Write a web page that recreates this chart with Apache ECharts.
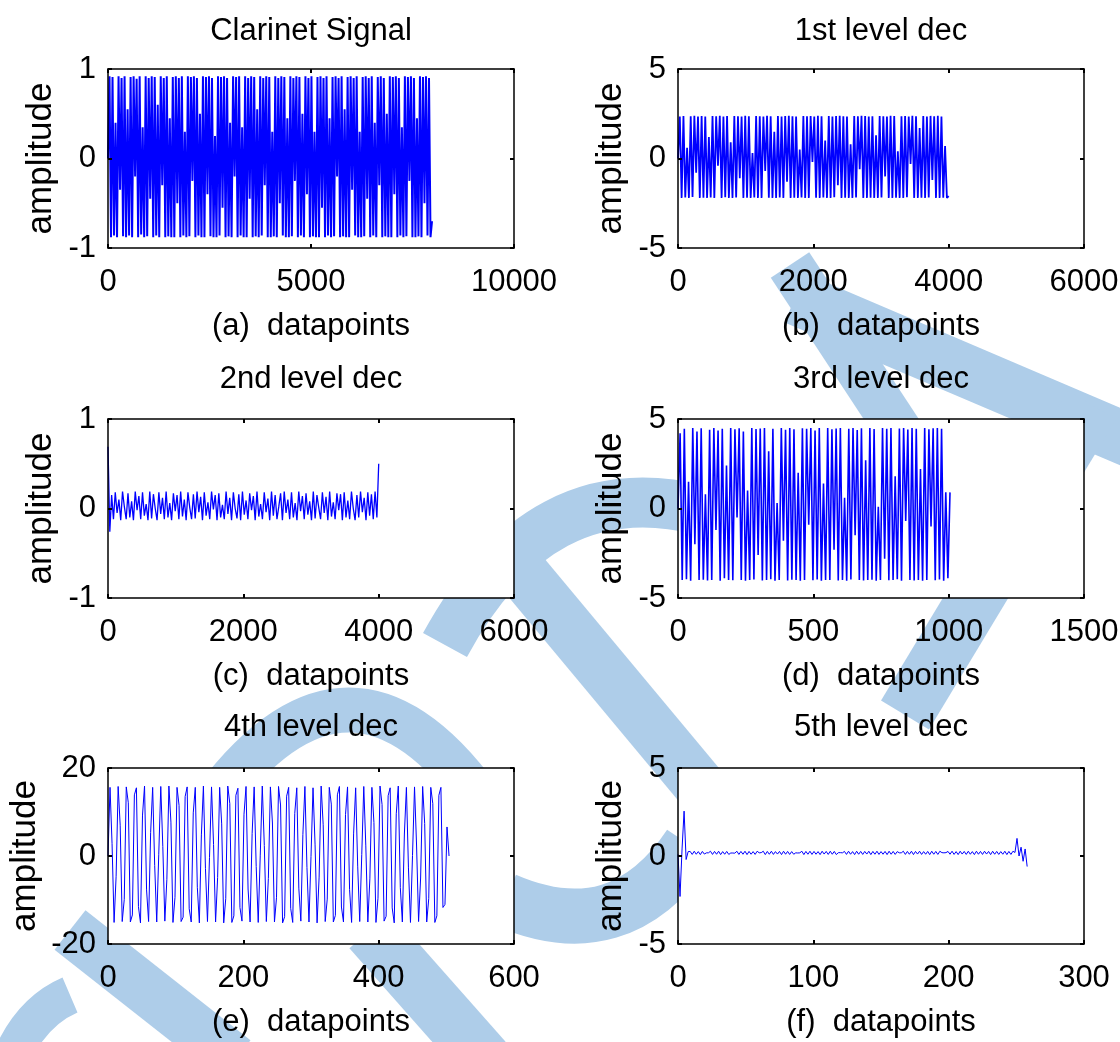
<!DOCTYPE html>
<html><head><meta charset="utf-8">
<script src="https://cdn.jsdelivr.net/npm/echarts@6/dist/echarts.min.js"></script>
<style>html,body{margin:0;padding:0;background:#fff}#c{width:1120px;height:1042px}</style>
</head><body><div id="c"></div>
<script>
// ---------- data ----------
const panelTitles = ['Clarinet Signal','1st level dec','2nd level dec','3rd level dec','4th level dec','5th level dec'];
const xAxisNames = ['(a)  datapoints','(b)  datapoints','(c)  datapoints','(d)  datapoints','(e)  datapoints','(f)  datapoints'];
const yAxisName = 'amplitude';
const xAxisMax = [10000, 6000, 6000, 1500, 600, 300];
const xAxisStep = [5000, 2000, 2000, 500, 200, 100];
const yAxisMin = [-1, -5, -1, -5, -20, -5];
const yAxisMax = [1, 5, 1, 5, 20, 5];
const yAxisStep = [1, 5, 1, 5, 20, 5];
// spacing (in datapoints) between the plotted samples of each signal
const sampleStep = [37.12, 26.85, 26.85, 7.79, 3, 1.5];

const sigA = [
0.00,0.92,-0.88,0.91,-0.86,0.40,-0.88,0.92,-0.35,0.90,-0.87,0.92,
-0.88,0.55,-0.86,0.91,-0.88,0.92,-0.20,0.89,-0.88,0.92,-0.85,0.35,
-0.88,0.92,-0.87,0.90,-0.45,0.92,-0.88,0.91,-0.86,0.60,-0.88,0.92,
-0.30,0.90,-0.88,0.92,-0.87,0.45,-0.88,0.91,-0.88,0.92,-0.50,0.90,
-0.88,0.92,-0.86,0.30,-0.88,0.92,-0.87,0.91,-0.25,0.92,-0.88,0.90,
-0.86,0.50,-0.88,0.92,-0.88,0.91,-0.40,0.92,-0.87,0.90,-0.88,0.25,
-0.88,0.92,-0.86,0.91,-0.55,0.92,-0.88,0.90,-0.87,0.40,-0.88,0.92,
-0.20,0.91,-0.88,0.92,-0.86,0.35,-0.88,0.92,-0.88,0.90,-0.45,0.92,
-0.88,0.91,-0.87,0.55,-0.88,0.92,-0.86,0.90,-0.30,0.92,-0.88,0.91,
-0.88,0.30,-0.87,0.92,-0.88,0.90,-0.50,0.92,-0.86,0.91,-0.88,0.45,
-0.88,0.92,-0.87,0.90,-0.25,0.92,-0.88,0.91,-0.86,0.50,-0.88,0.92,
-0.40,0.90,-0.88,0.92,-0.87,0.30,-0.88,0.91,-0.88,0.92,-0.55,0.90,
-0.88,0.92,-0.86,0.45,-0.88,0.91,-0.87,0.92,-0.20,0.90,-0.88,0.92,
-0.87,0.55,-0.88,0.91,-0.88,0.92,-0.35,0.90,-0.86,0.92,-0.88,0.30,
-0.88,0.91,-0.87,0.92,-0.45,0.90,-0.88,0.92,-0.86,0.40,-0.88,0.91,
-0.30,0.92,-0.88,0.90,-0.87,0.50,-0.88,0.92,-0.88,0.91,-0.40,0.92,
-0.88,0.90,-0.86,0.35,-0.88,0.92,-0.87,0.91,-0.25,0.92,-0.88,0.90,
-0.88,0.45,-0.87,0.92,-0.88,0.91,-0.50,0.92,-0.86,0.90,-0.88,-0.70];

const sigB = [
0.00,2.35,-2.20,2.38,-2.18,0.60,-2.20,2.36,-2.15,2.39,
-0.80,2.35,-2.20,2.37,-2.19,2.35,-2.20,1.20,-2.18,2.38,
-2.20,2.36,-0.40,2.39,-2.20,2.35,-2.17,2.37,-2.20,0.90,
-2.20,2.38,-2.18,2.36,-1.10,2.35,-2.20,2.39,-2.19,2.36,
-2.20,0.30,-2.18,2.38,-2.20,2.36,-2.20,2.35,-0.70,2.39,
-2.19,2.36,-2.20,1.50,-2.20,2.38,-2.18,2.35,-2.20,2.37,
-1.30,2.39,-2.20,2.36,-2.19,2.35,-2.20,0.50,-2.18,2.38,
-2.20,2.36,-2.20,2.37,-0.20,2.35,-2.19,2.39,-2.20,2.36,
-2.18,1.00,-2.20,2.38,-2.20,2.35,-2.17,2.37,-1.50,2.39,
-2.20,2.36,-2.19,2.35,-2.20,0.80,-2.20,2.38,-2.18,2.36,
-0.60,2.39,-2.20,2.37,-2.20,2.35,-2.19,2.36,-2.20,1.30,
-2.20,2.38,-2.18,2.36,-1.00,2.35,-2.20,2.39,-2.20,2.37,
-2.19,0.40,-2.20,2.36,-2.20,2.38,-2.17,2.35,-0.30,2.39,
-2.20,2.36,-2.20,1.70,-2.19,2.37,-2.20,2.35,-2.18,2.38,
-1.20,2.36,-2.20,2.39,-2.20,2.35,-2.19,0.70,-2.20,-2.10];

const sigC = [
0.69,-0.26,0.15,-0.12,0.18,-0.05,0.10,-0.13,0.19,0.02,
-0.12,0.17,-0.10,0.08,-0.13,0.19,-0.02,0.14,-0.12,0.18,
-0.08,0.05,-0.13,0.19,-0.11,0.16,0.00,-0.13,0.18,-0.06,
0.12,-0.12,0.19,-0.10,0.06,-0.13,0.17,-0.03,0.15,-0.12,
0.19,-0.09,0.10,-0.13,0.18,0.01,-0.12,0.16,-0.11,0.19,
-0.04,0.13,-0.13,0.18,-0.08,0.07,-0.12,0.19,-0.01,0.15,
-0.13,0.17,-0.10,0.04,-0.12,0.19,-0.06,0.12,-0.13,0.18,
0.00,-0.11,0.16,-0.13,0.19,-0.07,0.09,-0.12,0.17,-0.02,
0.14,-0.13,0.19,-0.09,0.05,-0.12,0.18,-0.04,0.11,-0.13,
0.19,-0.08,0.15,-0.12,0.02,0.17,-0.13,0.19,-0.05,0.10,
-0.12,0.18,-0.10,0.06,-0.13,0.19,-0.03,0.14,-0.12,0.17,
-0.07,0.08,-0.13,0.19,-0.11,0.15,0.01,-0.12,0.18,-0.05,
0.13,-0.13,0.19,-0.09,0.07,-0.12,0.17,-0.02,0.16,-0.13,
0.18,-0.10,0.09,-0.12,0.19,0.00,-0.13,0.15,-0.10,0.19,
-0.04,0.12,-0.13,0.18,-0.08,0.16,-0.12,0.19,-0.10,0.50];

const sigD = [
0.00,4.20,-4.00,4.45,-3.95,1.50,-4.03,4.50,-2.00,4.30,
-4.00,4.48,-3.98,0.80,-4.02,4.40,-4.00,4.50,-1.20,4.35,
-4.03,4.46,-3.90,2.40,-4.00,4.50,-4.01,4.42,-0.50,4.48,
-3.99,4.30,-4.03,1.00,-4.00,4.50,-3.97,4.44,-2.60,4.47,
-4.02,4.50,-4.00,3.20,-3.95,4.45,-4.03,0.30,-4.00,4.49,
-1.80,4.40,-4.02,4.50,-3.98,4.43,-4.00,2.00,-4.03,4.48,
-4.00,4.46,-0.90,4.50,-4.01,4.35,-3.96,4.49,-4.03,1.40,
-4.00,4.50,-3.99,4.42,-2.30,4.47,-4.02,4.50,-4.00,0.60,
-4.03,4.45,-3.97,4.50,-1.50,4.38,-4.00,4.48,-4.02,2.70,
-4.00,4.50,-3.98,4.44,-4.03,0.10,-4.00,4.49,-2.80,4.46,
-4.01,4.50,-4.00,1.80,-3.95,4.47,-4.03,4.50,-0.70,4.41,
-4.00,4.49,-4.02,4.45,-3.99,2.20,-4.03,4.50,-4.00,4.43,
-1.00,4.48,-4.01,4.50,-3.97,4.46,-4.03,0.90,-3.90,0.90];

const sigE = [
0.0,15.6,2.8,-15.1,-4.6,15.8,7.0,-14.9,-9.9,15.7,12.1,-15.0,-13.4,13.9,15.5,-11.5,-15.2,9.3,15.9,-7.7,-14.9,5.3,15.6,-2.2,-15.0,
0.4,15.8,2.2,-14.8,-5.3,15.9,7.7,-15.1,-9.4,15.6,11.5,-14.9,-13.9,13.5,15.7,-12.0,-15.0,9.8,15.6,-7.1,-15.2,4.8,15.9,-2.8,-14.9,
-0.3,15.7,2.6,-15.0,-4.9,15.6,7.3,-15.2,-9.7,15.9,11.9,-15.1,-13.6,13.8,15.4,-11.7,-14.8,9.5,15.8,-7.5,-15.0,5.1,15.7,-2.4,-15.1,
0.2,15.9,2.4,-14.9,-5.1,15.7,7.5,-15.0,-9.5,15.8,11.6,-15.2,-13.8,13.6,15.6,-11.9,-15.1,9.7,15.5,-7.3,-14.8,4.9,15.8,-2.6,-15.0,
-0.1,15.5,2.7,-15.2,-4.8,15.9,7.1,-14.9,-9.8,15.6,11.8,-15.0,-13.5,13.9,15.8,-11.6,-15.0,9.4,15.7,-7.6,-15.1,5.2,15.5,-2.3,-14.9,
0.3,15.8,2.3,-15.0,-5.2,15.6,7.6,-15.1,-9.6,15.9,11.7,-14.8,-13.7,13.7,15.5,-11.8,-15.2,9.6,15.9,-7.2,-15.0,5.0,15.6,-2.7,-15.1,
0.1,15.7,2.5,-14.9,-5.0,15.8,7.4,-15.0,-9.7,15.6,11.9,-15.1,-13.6,13.8,15.6,-11.7,-11.0,6.6,0.0];

const sigF = [
0.10,-2.30,0.40,2.55,-0.20,0.25,
0.26,0.09,0.27,0.10,0.25,0.08,0.26,0.11,0.18,0.18,
0.27,0.09,0.26,0.10,0.27,0.08,0.25,0.10,0.26,0.09,
0.17,0.17,0.16,0.27,0.09,0.26,0.10,0.27,0.08,0.26,
0.10,0.25,0.09,0.27,0.18,0.19,0.27,0.08,0.26,0.10,
0.27,0.09,0.25,0.11,0.26,0.08,0.27,0.10,0.26,0.09,
0.25,0.10,0.18,0.17,0.18,0.27,0.08,0.26,0.10,0.27,
0.09,0.26,0.10,0.25,0.08,0.27,0.11,0.26,0.09,0.27,
0.10,0.26,0.08,0.19,0.19,0.18,0.26,0.09,0.27,0.10,
0.25,0.08,0.27,0.10,0.26,0.09,0.26,0.11,0.27,0.08,
0.26,0.10,0.27,0.09,0.25,0.10,0.26,0.08,0.27,0.10,
0.26,0.09,0.25,0.18,0.18,0.27,0.09,0.26,0.10,0.27,
0.08,0.26,0.11,0.27,0.09,0.25,0.10,0.26,0.08,0.27,
0.10,0.26,0.09,0.27,0.19,0.18,0.19,0.26,0.10,0.27,
0.09,0.25,0.08,0.27,0.11,0.26,0.09,0.27,0.10,0.25,
0.08,0.27,0.10,0.26,0.09,0.27,0.11,0.26,0.08,0.27,
0.10,0.26,0.09,0.25,0.10,0.27,0.08,0.26,0.09,0.27,
0.20,
1.00,0.00,0.50,-0.30,0.40,-0.60];

const signals = [sigA, sigB, sigC, sigD, sigE, sigF];

// ---------- layout / style ----------
const FONT = "'Liberation Sans',Arial,sans-serif";
const FS = 31;
const colLeft = [108, 678];
const rowTop = [69, 419, 768];
const rowHeight = [179, 179, 176];
const boxWidth = 406;
const titleTop = [16, 364, 712];
const yNameGap = [49, 49, 49, 49, 65, 49];
const lineWidths = [2.0, 1.8, 1.3, 1.6, 1, 1];
const lineBlue = '#0000ff';
const wmColor = '#aecde9';

const grids = [], xAxes = [], yAxes = [], series = [], titles = [];
for (let i = 0; i < 6; i++) {
  const col = i % 2, row = Math.floor(i / 2);
  const left = colLeft[col], top = rowTop[row], h = rowHeight[row];
  grids.push({ left: left, top: top, width: boxWidth, height: h, show: false,
    outerBoundsMode: 'none', containLabel: false });
  titles.push({ text: panelTitles[i], left: left + boxWidth / 2, top: titleTop[row], textAlign: 'center', padding: 0,
    textStyle: { fontFamily: FONT, fontSize: FS, fontWeight: 'normal', color: '#000' } });
  const axLine = { show: true, onZero: false, lineStyle: { color: '#000', width: 1.5 } };
  const tick = { show: true, inside: true, length: 4, lineStyle: { color: '#000', width: 2 } };
  const common = { z: 4, splitLine: { show: false }, axisLine: axLine, axisTick: tick };
  const fmt = (v) => String(v);
  xAxes.push(Object.assign({ gridIndex: i, type: 'value', position: 'bottom', min: 0, max: xAxisMax[i], interval: xAxisStep[i],
    axisLabel: { margin: 19, fontFamily: FONT, fontSize: FS, color: '#000', hideOverlap: false, formatter: fmt },
    name: xAxisNames[i], nameLocation: 'middle', nameGap: 63,
    nameTextStyle: { fontFamily: FONT, fontSize: FS, color: '#000' } }, common));
  xAxes.push(Object.assign({ gridIndex: i, type: 'value', position: 'top', min: 0, max: xAxisMax[i], interval: xAxisStep[i],
    axisLabel: { show: false } }, common));
  yAxes.push(Object.assign({ gridIndex: i, type: 'value', position: 'left', min: yAxisMin[i], max: yAxisMax[i], interval: yAxisStep[i],
    axisLabel: { margin: 12, fontFamily: FONT, fontSize: FS, color: '#000', hideOverlap: false, formatter: fmt },
    name: yAxisName, nameLocation: 'middle', nameGap: yNameGap[i],
    nameTextStyle: { fontFamily: FONT, fontSize: 35, color: '#000' } }, common));
  yAxes.push(Object.assign({ gridIndex: i, type: 'value', position: 'right', min: yAxisMin[i], max: yAxisMax[i], interval: yAxisStep[i],
    axisLabel: { show: false } }, common));
  // white plot-box background (covers the watermark inside the axes)
  series.push({ type: 'custom', xAxisIndex: 2 * i, yAxisIndex: 2 * i, data: [0], silent: true, z: 2,
    renderItem: (params) => ({ type: 'rect', shape: { x: params.coordSys.x, y: params.coordSys.y,
      width: params.coordSys.width, height: params.coordSys.height }, style: { fill: '#ffffff' } }) });
  const step = sampleStep[i];
  series.push({ type: 'line', xAxisIndex: 2 * i, yAxisIndex: 2 * i, showSymbol: false, symbol: 'none',
    data: signals[i].map((v, k) => [k * step, v]), lineStyle: { color: lineBlue, width: lineWidths[i] },
    animation: false, silent: true, z: 3 });
}

// decorative background watermark strokes (hidden inside the white plot boxes)
const wmLine = (pts, w) => ({ type: 'polyline', silent: true, shape: { points: pts },
  style: { fill: 'none', stroke: wmColor, lineWidth: w } });
const wmCurve = (x1, y1, cx, cy, x2, y2, w) => ({ type: 'bezierCurve', silent: true,
  shape: { x1: x1, y1: y1, cpx1: cx, cpy1: cy, x2: x2, y2: y2 },
  style: { fill: 'none', stroke: wmColor, lineWidth: w } });
const watermark = [
  wmLine([[795, 298], [1140, 445]], 53),
  wmLine([[790, 265], [905, 440]], 46),
  wmLine([[1092, 405], [905, 715]], 56),
  wmLine([[495, 540], [720, 810]], 52),
  wmCurve(445, 645, 540, 470, 700, 510, 50),
  wmCurve(215, 800, 350, 620, 480, 800, 45),
  wmCurve(505, 900, 620, 950, 690, 845, 55),
  wmLine([[370, 930], [485, 1060]], 55),
  wmLine([[70, 930], [235, 1060]], 50),
  wmCurve(15, 1050, 35, 1010, 70, 995, 38)
];

const chart = echarts.init(document.getElementById('c'), null, { renderer: 'canvas' });
chart.setOption({
  animation: false,
  backgroundColor: '#ffffff',
  title: titles,
  grid: grids,
  xAxis: xAxes,
  yAxis: yAxes,
  series: series,
  graphic: { z: -1, elements: watermark }
});
</script>
</body></html>
